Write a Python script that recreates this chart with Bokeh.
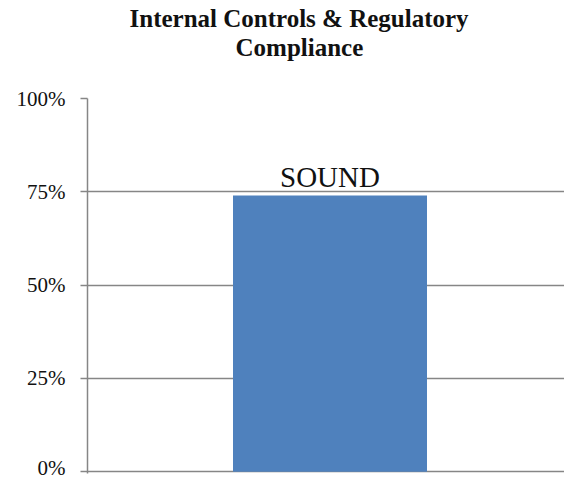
from bokeh.plotting import figure
from bokeh.models import Range1d, NumeralTickFormatter, FixedTicker, Title, LabelSet, ColumnDataSource
from bokeh.embed import file_html
from bokeh.resources import INLINE

# ---- data ----
title_lines = ["Internal Controls & Regulatory", "Compliance"]
categories = ["Internal Controls & Regulatory Compliance"]
values = [0.74]
bar_labels = ["SOUND"]
y_ticks = [0, 0.25, 0.5, 0.75, 1.0]

FONT = "Liberation Serif"
GRAY = "#868686"

src = ColumnDataSource(dict(x=list(range(len(categories))), top=values, label=bar_labels))

p = figure(width=564, height=479, output_backend="svg", toolbar_location=None,
           x_range=Range1d(-0.5, 0.4835), y_range=Range1d(-0.005, 1.0),
           x_axis_location=None, min_border_left=87, min_border_right=0,
           min_border_top=98, min_border_bottom=6)

p.vbar(x="x", top="top", bottom=0, width=0.4, source=src,
       fill_color="#4F81BD", line_color=None)

labels = LabelSet(x="x", y="top", text="label", source=src, text_align="center",
                  text_baseline="alphabetic", y_offset=9, text_font=FONT,
                  text_font_size="29px", text_color="#111111")
p.add_layout(labels)

# spacer between the frame and the two-line title
p.add_layout(Title(text=" ", text_font_size="1px", standoff=35), "above")
p.add_layout(Title(text=title_lines[1], align="left", offset=148, text_font=FONT,
                   text_font_size="25px", text_font_style="bold", text_color="#111111",
                   standoff=0), "above")
p.add_layout(Title(text=title_lines[0], align="left", offset=42, text_font=FONT,
                   text_font_size="25px", text_font_style="bold", text_color="#111111",
                   standoff=0), "above")

ax = p.yaxis[0]
ax.ticker = FixedTicker(ticks=y_ticks)
ax.formatter = NumeralTickFormatter(format="0%")
ax.major_label_text_font = FONT
ax.major_label_text_font_size = "21px"
ax.major_label_text_color = "#111111"
ax.axis_line_color = GRAY
ax.axis_line_width = 1.5
ax.major_tick_line_color = GRAY
ax.major_tick_line_width = 1.5
ax.major_tick_out = 7
ax.major_tick_in = 0
ax.minor_tick_line_color = None
ax.major_label_standoff = 15

p.ygrid.ticker = FixedTicker(ticks=y_ticks)
p.ygrid.grid_line_color = GRAY
p.ygrid.grid_line_width = 1.5
p.xgrid.grid_line_color = None
p.outline_line_color = None

open("out.html", "w").write(file_html(p, INLINE))
